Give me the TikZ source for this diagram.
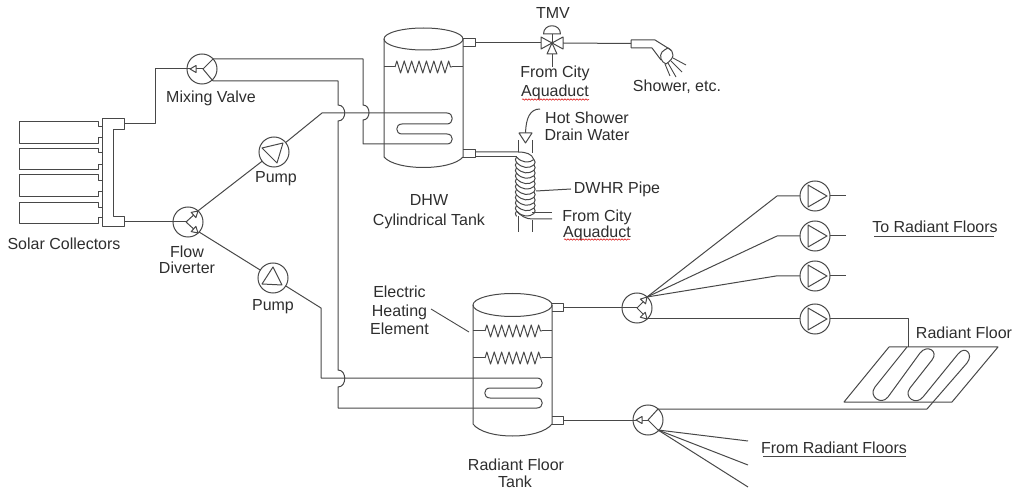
\documentclass[tikz,border=0pt]{standalone}
\usepackage{fontspec}
\setmainfont{Liberation Sans}
\usetikzlibrary{decorations.pathmorphing}
\definecolor{ink}{HTML}{484848}
\definecolor{txt}{HTML}{2E2E2E}
\tikzset{
  pipe/.style={draw=ink,line width=1pt,line join=round},
  thin pipe/.style={draw=ink,line width=0.9pt},
  disc/.style={circle,draw=ink,line width=1pt,minimum size=30pt,inner sep=0pt,outer sep=0pt},
  lbl/.style={text=txt,font=\fontsize{16}{16}\selectfont,align=center,inner sep=0pt},
  heater/.style={pipe,decorate,decoration={zigzag,segment length=7.4pt,amplitude=6pt}},
  spell/.style={draw=red!85!black,line width=0.5pt,decorate,decoration={snake,segment length=3pt,amplitude=0.7pt}},
  rule/.style={draw=ink,line width=1pt}
}
\newcommand{\flowtip}[3]{\draw[pipe,fill=white,shift={(#1,#2)},rotate=#3] (0,0)--(-6,3.5)--(-6,-3.5)--cycle;}
\begin{document}
\begin{tikzpicture}[x=1pt,y=-1pt]
\useasboundingbox (0,0) rectangle (1013,489);
% ---- nodes: valves and pumps
\node[disc] (mv) at (202,69) {};
\node[disc] (fd) at (188,222) {};
\node[disc] (p1) at (274,152) {};
\node[disc] (p2) at (273,278) {};
\node[disc] (v3) at (637,308) {};
\node[disc] (v4) at (648,420) {};
\node[disc] (r1) at (815,196) {};
\node[disc] (r2) at (815,236) {};
\node[disc] (r3) at (815,276) {};
\node[disc] (r4) at (815,319) {};
% ---- named connector ends
\coordinate (hout) at (124,124);
\coordinate (hin) at (124,222);
\coordinate (dout) at (475,43);
\coordinate (rout) at (563,308);
\coordinate (rret) at (563,420);
\coordinate (tmvL) at (541,43);
\coordinate (tmvR) at (563,43);
\coordinate (shw) at (631,43.5);
\coordinate (mvA) at (213,59);
\coordinate (mvB) at (213,81);
\coordinate (fan) at (647,297);
\coordinate (fan1) at (658,409);
\coordinate (fan2) at (658,430);
% ---- solar collectors
\foreach \a/\b/\c/\d in {122/127/138/144,149/153/165/170,175/181/192/197,203/208/218/224}{
  \draw[pipe] (103,\c)--(98,\c)--(98,\d)--(19,\d)--(19,\a)--(98,\a)--(98,\b)--(103,\b);
}
\draw[pipe] (102,119)--(124,119)--(124,130)--(113,130)--(113,217)--(124,217)--(124,227)--(102,227)--cycle;
% ---- mains
\draw[pipe] (hout)--(155,124)--(155,69)--(203,69);
\draw[pipe] (hin)--(186,222);
% Y of mixing valve
\draw[pipe] (203,69)--(mvA) (203,69)--(mvB);
\flowtip{190}{69}{180}
% Y of flow diverter
\draw[pipe] (186,222)--(197,212) (186,222)--(197,232);
\flowtip{198}{211}{42}
\flowtip{198}{233}{-42}
% pump lines
\draw[pipe] (fd.48)--(p1);
\draw[pipe] (fd.-42)--(p2);
\draw[pipe] (p1)--(322,113)--(447,113) .. controls +(7,0) and +(7,0) .. (447,124)--(402,124) .. controls +(-7,0) and +(-7,0) .. (402,134)--(447,134) .. controls +(7,0) and +(7,0) .. (447,144)--(363,144)--(363,120) .. controls +(8,0) and +(8,0) .. (363,105)--(363,59)--(mvA);
\draw[pipe] (p2)--(321,308)--(321,378)--(537,378) .. controls +(7,0) and +(7,0) .. (537,388)--(490,388) .. controls +(-7,0) and +(-7,0) .. (490,398)--(537,398) .. controls +(7,0) and +(7,0) .. (537,408)--(338,408)--(338,387) .. controls +(9,0) and +(9,0) .. (338,370)--(338,121) .. controls +(9,0) and +(9,0) .. (338,105)--(338,81)--(mvB);
% ---- pump triangles
\draw[pipe] (262,148)--(283,143)--(277,163)--cycle;
\draw[pipe] (262,284)--(273,267)--(282,285)--cycle;
\foreach \n/\y in {r1/196,r2/236,r3/276,r4/319}{
  \draw[pipe] (808,\y-11)--(827,\y)--(808,\y+11)--cycle;
}
% ---- DHW tank
\draw[pipe] (423.5,39) ellipse [x radius=39.5,y radius=11];
\draw[pipe] (384,39)--(384,157) .. controls (396,171) and (451,171) .. (463,157)--(463,39);
\draw[pipe] (463,39)--(475,39)--(475,47)--(463,47);
\draw[pipe] (463,150)--(475,150)--(475,158)--(463,158);
\draw[pipe] (384,67)--(395,67);
\draw[heater] (395,67)--(452,67);
\draw[pipe] (452,67)--(463,67);
% ---- TMV and shower
\draw[pipe] (dout)--(tmvL);
\draw[pipe] (tmvR)--(shw);
\draw[pipe] (541,37)--(552,43)--(541,49)--cycle;
\draw[pipe] (563,37)--(552,43)--(563,49)--cycle;
\draw[pipe] (547,54)--(552,43)--(557,54)--cycle;
\draw[pipe] (552,43)--(552,34);
\draw[pipe] (543.5,34) .. controls (543.5,23) and (560.5,23) .. (560.5,34)--cycle;
\draw[pipe] (552,54)--(552,67);
\fill[ink] (552,43) circle (1.6);
\draw[pipe] (631,48)--(631,40)--(655,40)--(671,50);
\draw[pipe] (631,48)--(652,48)--(661,60);
\draw[pipe] (668,48) .. controls (675,52) and (675,58) .. (666,64) .. controls (661,62) and (659,56) .. (662,52) .. controls (664,50) and (666,49) .. (668,48)--cycle;
\draw[thin pipe] (673,58)--(686,65) (671,61)--(682,72) (668,63)--(676,77) (665,64)--(670,76);
% ---- DWHR pipe
\draw[pipe] (518,140)--(518,152) (532,140)--(532,153);
\draw[pipe] (518,216)--(518,232) (532,220)--(532,232);
\draw[pipe] (475,152)--(518,152) .. controls (526,152) and (532,154) .. (533.5,159);
\draw[pipe] (475,157)--(516.5,157);
\foreach \i in {0,...,10}{
  \pgfmathsetmacro{\ya}{157+5.4*\i}
  \pgfmathsetmacro{\yb}{\ya+5.4}
  \draw[pipe] (516.5,\ya) .. controls (522,\ya+6) and (529,\ya+6.5) .. (534,\ya+2.5);
  \draw[pipe] (516.5,\ya) .. controls (515,\ya+2) and (515,\ya+3.5) .. (516.5,\yb);
  \ifnum\i<10 \draw[pipe] (534,\ya+2.5) .. controls (535.5,\ya+4.5) and (535.5,\ya+6) .. (534,\yb+2.5);\fi
}
\draw[pipe] (532,213)--(552,213);
\draw[pipe] (516.5,211) .. controls (521,216) and (526,219) .. (532,219)--(552,219);
\draw[pipe] (540,109) .. controls (530,109) and (526,118) .. (525.5,133);
\draw[pipe,fill=white] (519,133)--(532,133)--(525.5,143)--cycle;
\draw[pipe] (536,191) -- (571,189);
% ---- Radiant floor tank
\draw[pipe] (512.5,305) ellipse [x radius=39.5,y radius=11.5];
\draw[pipe] (473,305)--(473,424) .. controls (485,440) and (540,440) .. (552,424)--(552,305);
\draw[pipe] (552,304)--(563,304)--(563,312)--(552,312);
\draw[pipe] (552,416)--(563,416)--(563,424)--(552,424);
\foreach \y in {331,358}{
  \draw[pipe] (473,\y)--(485,\y);
  \draw[heater] (485,\y)--(542,\y);
  \draw[pipe] (542,\y)--(552,\y);
}
\draw[thin pipe] (431,309)--(469,332);
% ---- right-hand distribution
\draw[pipe] (rout)--(637,308);
\draw[pipe] (rret)--(648,420);
\draw[pipe] (637,308)--(646,299) (637,308)--(646,317);
\flowtip{647}{297}{48}
\flowtip{647}{319}{-45}
\draw[pipe] (648,420)--(fan1);
\draw[pipe] (648,420)--(fan2);
\flowtip{636}{420}{180}
\draw[pipe] (fan)--(777,196)--(r1);
\draw[pipe] (fan)--(777,236)--(r2);
\draw[pipe] (fan)--(776,276)--(r3);
\draw[pipe] (647,319)--(r4);
\coordinate (e1) at (846,196);
\coordinate (e2) at (846,236);
\coordinate (e3) at (846,276);
\draw[pipe] (r1)--(e1);
\draw[pipe] (r2)--(e2);
\draw[pipe] (r3)--(e3);
\draw[pipe] (r4)--(908,319)--(908,347);
\draw[pipe] (fan2)--(748,441);
\draw[pipe] (fan2)--(748,465);
\draw[pipe] (fan2)--(748,487);
% ---- radiant floor
\draw[pipe] (889,347)--(998,347)--(952,402)--(844,402)--cycle;
\draw[pipe] (907,347)--(875,387) .. controls +(-7,9) and +(-7,9) .. (888,397)--(920,353) .. controls +(7,-9) and +(7,-9) .. (932,360)--(910,388) .. controls +(-7,9) and +(-7,9) .. (923,397)--(958,354) .. controls +(7,-9) and +(7,-9) .. (967,363)--(927,409)--(fan1);
% ---- labels
\node[lbl] (t1) at (211,98) {Mixing Valve};
\node[lbl] (t2) at (276,179) {Pump};
\node[lbl] (t3) at (273,307) {Pump};
\node[lbl] (t4) at (64,244) {Solar Collectors};
\node[lbl] (t5) at (187,259.5) {Flow\\Diverter};
\node[lbl] (t6) at (429,212) {DHW\\[4pt]Cylindrical Tank};
\node[lbl] (t7) at (553,13) {TMV};
\node[lbl] (t8) at (555,82.5) {From City\\[3pt]Aquaduct};
\node[lbl] (t9) at (677,87) {Shower, etc.};
\node[lbl] (t10) at (587,126.5) {Hot Shower\\[1pt]Drain Water};
\node[lbl] (t11) at (617,189) {DWHR Pipe};
\node[lbl] (t12) at (597,225) {From City\\Aquaduct};
\node[lbl] (t13) at (399.5,310.5) {Electric\\[2.5pt]Heating\\[2.5pt]Element};
\node[lbl] (t14) at (516,465) {Radiant Floor};
\node[lbl,anchor=base] (t15) at (515,487.5) {Tank};
\node[lbl] (t16) at (935,227) {To Radiant Floors};
\node[lbl] (t17) at (834,448) {From Radiant Floors};
\node[lbl] (t18) at (964,333) {Radiant Floor};
\draw[rule] (874,237)--(994,237);
\draw[rule] (763,456)--(906,456);
\draw[spell] (522,99.5)--(589,99.5);
\draw[spell] (564,239.5)--(630,239.5);
\end{tikzpicture}
\end{document}
